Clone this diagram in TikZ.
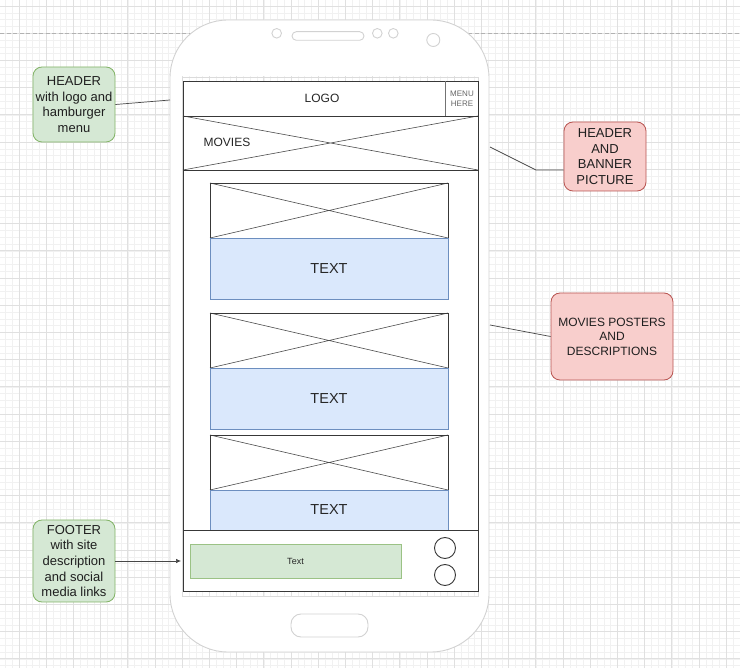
\documentclass[tikz,border=0pt]{standalone}
\usepackage{fontspec}
\setmainfont{Liberation Sans}
\usetikzlibrary{arrows.meta,calc}
\definecolor{gridminor}{HTML}{F1F1F1}
\definecolor{gridmajor}{HTML}{E0E0E0}
\definecolor{phonegray}{HTML}{D2D2D2}
\definecolor{bluefill}{HTML}{DAE8FC}
\definecolor{bluestroke}{HTML}{6C8EBF}
\definecolor{greenfill}{HTML}{D5E8D4}
\definecolor{greenstroke}{HTML}{82B366}
\definecolor{redfill}{HTML}{F8CECC}
\definecolor{redstroke}{HTML}{B85450}
\newcommand\mygridlines{%
  \foreach \k in {0,...,107}{\draw[minorgrid] ({5.4+6.8*\k},0) -- ({5.4+6.8*\k},668);}
  \foreach \k in {0,...,97}{\draw[minorgrid] (0,{6+6.8*\k}) -- (740,{6+6.8*\k});}
  \foreach \k in {0,...,26}{\draw[majorgrid] ({19+27.2*\k},0) -- ({19+27.2*\k},668);}
  \foreach \k in {0,...,24}{\draw[majorgrid] (0,{6+27.2*\k}) -- (740,{6+27.2*\k});}
}
\begin{document}
\begin{tikzpicture}[x=1pt,y=-1pt,
  minorgrid/.style={draw=gridminor, line width=0.5pt},
  majorgrid/.style={draw=gridmajor, line width=0.7pt},
  phoneline/.style={draw=phonegray, line width=0.9pt},
  wire/.style={draw=black!78, line width=0.9pt},
  crossline/.style={draw=black!70, line width=0.6pt},
  textbox/.style={fill=bluefill, draw=bluestroke, line width=0.8pt},
  note/.style={rectangle, rounded corners=9pt, line width=0.8pt, align=center,
    text=black!88, inner sep=0pt, font=\fontsize{13}{15.7}\selectfont},
  greennote/.style={note, fill=greenfill, draw=greenstroke},
  rednote/.style={note, fill=redfill, draw=redstroke},
  link/.style={draw=black!72, line width=0.7pt},
  lbl/.style={inner sep=0pt, text=black!85, align=center}]
\useasboundingbox (0,0) rectangle (740,668);
\fill[white] (0,0) rectangle (740,668);
\mygridlines
\draw[draw=black!30, line width=0.8pt, dash pattern=on 4pt off 2.5pt] (0,33.2) -- (740,33.2);

% phone body
\draw[phoneline, fill=white, rounded corners=58pt] (170,20) rectangle (489,652);
\begin{scope}
  \clip (182,77) rectangle (478,596);
  \mygridlines
\end{scope}
\draw[draw=phonegray!80, line width=0.8pt] (182,77) rectangle (478,596);
\draw[phoneline] (276.7,33.3) circle[radius=4.8pt];
\draw[phoneline, rounded corners=4.3pt] (292,31.7) rectangle (364,40.3);
\draw[phoneline] (377.3,33.3) circle[radius=4.8pt];
\draw[phoneline] (393.3,33.3) circle[radius=4.8pt];
\draw[phoneline] (433.3,40) circle[radius=6.5pt];
\draw[phoneline, rounded corners=10pt] (291,614) rectangle (368,637);

% screen content
\draw[wire, fill=white] (183,81) rectangle (478,591);
% header
\draw[wire] (183,81) rectangle (478,116);
\draw[draw=black!55, line width=0.8pt] (445,81) -- (445,116);
\node[lbl, font=\fontsize{12}{14}\selectfont] (logo) at (322,98.5) {LOGO};
\node[lbl, text=black!60, font=\fontsize{8}{10}\selectfont] (menu) at (462,98.5) {MENU\\HERE};
% banner
\draw[crossline] (183,116) -- (478,170) (183,170) -- (478,116);
\draw[wire] (183,116) rectangle (478,170);
\node[lbl, font=\fontsize{12}{14}\selectfont] (movies) at (227,142.5) {MOVIES};

% cards
\foreach \ya/\yb/\yc/\nm in {183/238/299/ta, 313/368/429/tb, 435/490/530/tc}{
  \draw[crossline] (210,\ya) -- (448,\yb) (210,\yb) -- (448,\ya);
  \draw[wire] (210,\ya) rectangle (448,\yb);
  \draw[textbox] (210,\yb) rectangle (448,\yc);
  \node[lbl, font=\fontsize{14.5}{17}\selectfont] (\nm) at (329,{(\yb+\yc)/2}) {TEXT};
}

% footer
\fill[white] (183.5,530) rectangle (477.5,590.5);
\draw[wire] (183,530) -- (478,530);
\draw[wire] (183,591) -- (478,591);
\draw[fill=greenfill, draw=greenstroke!80, line width=0.8pt] (190,544) rectangle (401,578);
\node[lbl, font=\fontsize{9}{11}\selectfont] (ftext) at (295.5,561) {Text};
\draw[wire] (445,548) circle[radius=10.5pt];
\draw[wire] (445,575) circle[radius=10.5pt];

% annotations
\node[greennote, minimum width=82pt, minimum height=75pt] (hdr) at (74,104.5)
  {HEADER\\with logo and\\hamburger\\menu};
\node[greennote, minimum width=82pt, minimum height=82pt] (ftr) at (74,561)
  {FOOTER\\with site\\description\\and social\\media links};
\node[rednote, minimum width=82pt, minimum height=69pt] (hb) at (605,156.5)
  {HEADER\\AND\\BANNER\\PICTURE};
\node[rednote, minimum width=122pt, minimum height=87pt,
  font=\fontsize{12}{14.5}\selectfont] (mp) at (612,336.5)
  {MOVIES POSTERS\\AND\\DESCRIPTIONS};

\coordinate (hdrend) at (170,100);
\coordinate (ftrend) at (181,561);
\coordinate (hbbend) at (536,170);
\coordinate (hbend) at (490,147);
\coordinate (mpend) at (490,325);

\draw[link] (hdr.east) -- (hdrend);
\draw[link, -{Latex[length=5pt,width=4.5pt]}] (ftr.east) -- (ftrend);
\draw[link] ($(hb.west)+(0,13.5)$) -- (hbbend) -- (hbend);
\draw[link] (mp.west) -- (mpend);
\end{tikzpicture}
\end{document}
